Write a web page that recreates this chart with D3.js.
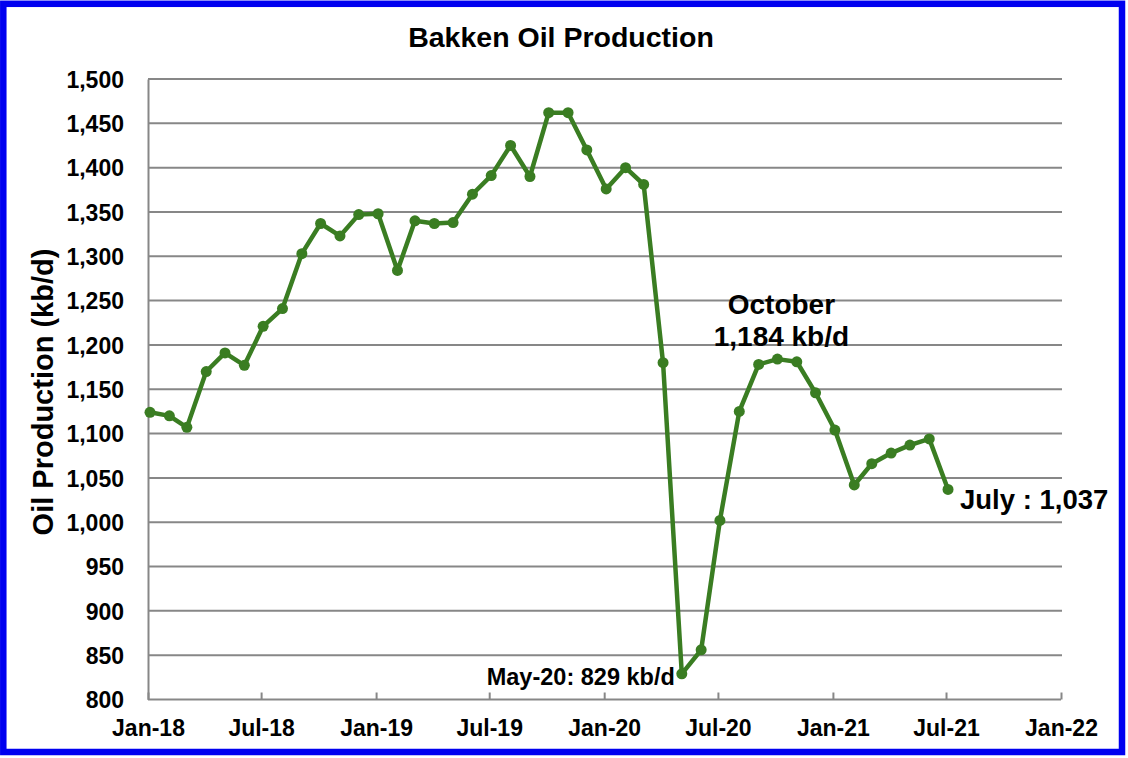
<!DOCTYPE html>
<html>
<head>
<meta charset="utf-8">
<script src="https://cdn.jsdelivr.net/npm/d3@7"></script>
<style>
  html, body { margin: 0; padding: 0; background: #ffffff; }
  svg { display: block; }
  text { font-family: "Liberation Sans", Arial, Helvetica, sans-serif; font-weight: bold; fill: #000; }
</style>
</head>
<body>
<svg id="chart" width="1128" height="758"></svg>
<script>
// ---- Data ----
const months = [
  "2018-01","2018-02","2018-03","2018-04","2018-05","2018-06","2018-07","2018-08","2018-09","2018-10","2018-11","2018-12",
  "2019-01","2019-02","2019-03","2019-04","2019-05","2019-06","2019-07","2019-08","2019-09","2019-10","2019-11","2019-12",
  "2020-01","2020-02","2020-03","2020-04","2020-05","2020-06","2020-07","2020-08","2020-09","2020-10","2020-11","2020-12",
  "2021-01","2021-02","2021-03","2021-04","2021-05","2021-06","2021-07"
];
const production = [
  1124, 1120, 1107, 1170, 1191, 1177, 1221, 1241, 1303, 1337, 1323, 1347,
  1348, 1284, 1340, 1337, 1338, 1370, 1391, 1425, 1390, 1462, 1462, 1420,
  1376, 1400, 1381, 1180, 829, 856, 1002, 1125, 1178, 1184, 1181, 1146,
  1104, 1042, 1066, 1078, 1087, 1094, 1037
];
const xTickMonths = ["2018-01","2018-07","2019-01","2019-07","2020-01","2020-07","2021-01","2021-07","2022-01"];
const yTicks = [800, 850, 900, 950, 1000, 1050, 1100, 1150, 1200, 1250, 1300, 1350, 1400, 1450, 1500];
const titleText = "Bakken Oil Production";
const yAxisTitle = "Oil Production (kb/d)";
const annotations = [
  { month: "2020-10", lines: ["October", "1,184 kb/d"] },
  { month: "2020-05", lines: ["May-20: 829 kb/d"] },
  { month: "2021-07", lines: ["July : 1,037"] }
];

// ---- Setup ----
const parse = d3.timeParse("%Y-%m");
const fmtTick = d3.timeFormat("%b-%y");
const data = months.map((m, i) => ({ date: parse(m), value: production[i] }));

const svg = d3.select("#chart");
const W = 1128, H = 758;
const plot = { left: 148, right: 1061, top: 79, bottom: 699.5 };

const x = d3.scaleTime()
  .domain([parse("2018-01"), parse("2022-01")])
  .range([plot.left, plot.right]);
const y = d3.scaleLinear()
  .domain([800, 1500])
  .range([plot.bottom, plot.top]);

const gray = "#878787";
const green = "#3a7d22";
const markerShift = 2; // markers sit slightly right of month start in the reference

// background
svg.append("rect").attr("x", 0).attr("y", 0).attr("width", W).attr("height", H).attr("fill", "#fff");

// gridlines
svg.append("g").selectAll("line")
  .data(yTicks.filter(t => t > 800))
  .join("line")
  .attr("x1", plot.left).attr("x2", plot.right + 1)
  .attr("y1", d => y(d)).attr("y2", d => y(d))
  .attr("stroke", gray).attr("stroke-width", 2);

// y axis
const yAxis = d3.axisLeft(y).tickValues(yTicks).tickSize(0).tickPadding(24)
  .tickFormat(d3.format(","));
const gy = svg.append("g").attr("transform", `translate(${plot.left},0)`).call(yAxis);
gy.select(".domain").attr("stroke", gray).attr("stroke-width", 2);
gy.selectAll("text").style("font-size", "23px").attr("dy", "0.36em").attr("fill", "#000");

// x axis
const xAxis = d3.axisBottom(x)
  .tickValues(xTickMonths.map(parse))
  .tickSize(-7).tickPadding(0)
  .tickFormat(fmtTick);
const gx = svg.append("g").attr("transform", `translate(0,${plot.bottom})`).call(xAxis);
gx.select(".domain").attr("stroke", gray).attr("stroke-width", 2).attr("d", `M${plot.left},0H${plot.right}`);
gx.selectAll(".tick line").attr("stroke", gray).attr("stroke-width", 2);
gx.selectAll("text").style("font-size", "23px").attr("y", 36).attr("dy", 0).attr("fill", "#000");

// line
const line = d3.line().x(d => x(d.date) + markerShift).y(d => y(d.value));
svg.append("path").datum(data)
  .attr("d", line)
  .attr("fill", "none")
  .attr("stroke", green)
  .attr("stroke-width", 4.5)
  .attr("stroke-linejoin", "round");

svg.append("g").selectAll("circle")
  .data(data).join("circle")
  .attr("cx", d => x(d.date) + markerShift).attr("cy", d => y(d.value))
  .attr("r", 5.5).attr("fill", green);

// title
svg.append("text").attr("x", 561).attr("y", 46.5)
  .attr("text-anchor", "middle").style("font-size", "28.5px").text(titleText);

// y axis title
svg.append("text")
  .attr("transform", `translate(53,392) rotate(-90)`)
  .attr("text-anchor", "middle").style("font-size", "29px").text(yAxisTitle);

// annotations
const byMonth = m => data.find(d => +d.date === +parse(m));
// October
{
  const d = byMonth(annotations[0].month);
  const t = svg.append("text").attr("text-anchor", "middle").style("font-size", "28px");
  t.append("tspan").attr("x", x(d.date) + 6).attr("y", y(d.value) - 45).text(annotations[0].lines[0]);
  t.append("tspan").attr("x", x(d.date) + 6).attr("y", y(d.value) - 13).text(annotations[0].lines[1]);
}
// May-20
{
  const d = byMonth(annotations[1].month);
  svg.append("text").attr("x", x(d.date) - 5).attr("y", y(d.value) + 11)
    .attr("text-anchor", "end").style("font-size", "23.5px").text(annotations[1].lines[0]);
}
// July
{
  const d = byMonth(annotations[2].month);
  svg.append("text").attr("x", x(d.date) + 14).attr("y", y(d.value) + 20)
    .attr("text-anchor", "start").style("font-size", "27.5px").text(annotations[2].lines[0]);
}

// outer blue frame
svg.append("rect")
  .attr("x", 3.3).attr("y", 3.8).attr("width", 1118.7).attr("height", 748.2)
  .attr("fill", "none").attr("stroke", "#0000f0").attr("stroke-width", 6.5);
</script>
</body>
</html>
